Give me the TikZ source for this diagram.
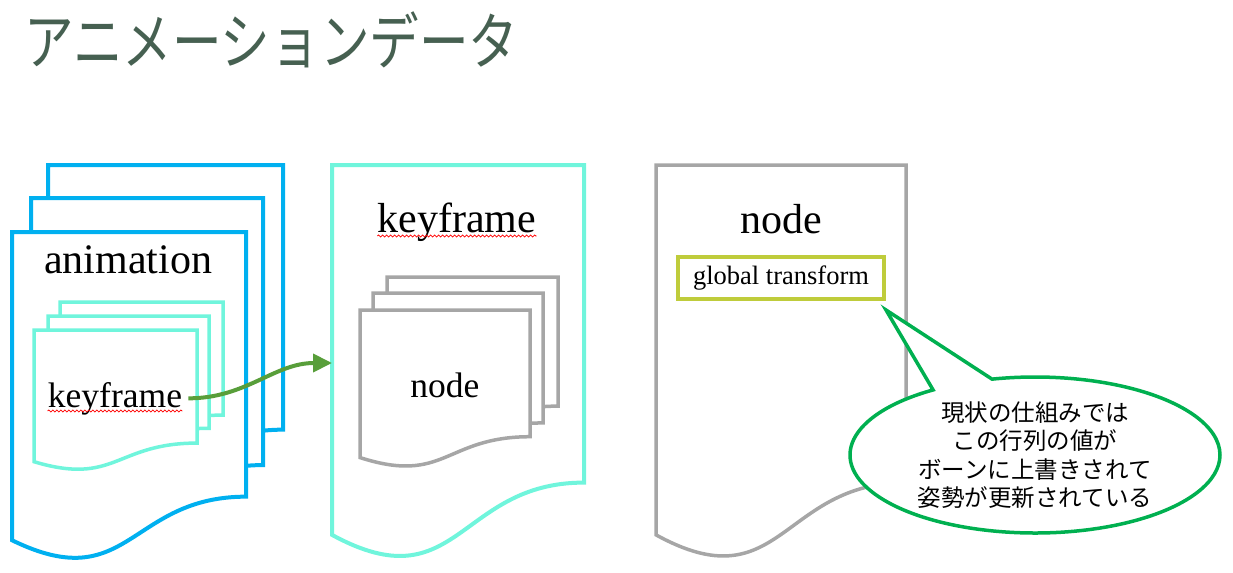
\documentclass[tikz,border=0pt]{standalone}
\usepackage{fontspec}
\setmainfont{Liberation Serif}
\newfontfamily\jpfont{Noto Sans CJK JP}
\newfontfamily\titlefont[FakeStretch=0.8]{Noto Sans CJK JP}
\usetikzlibrary{positioning, arrows.meta, shapes.callouts, decorations.pathmorphing}

\definecolor{titlegreen}{RGB}{70,96,81}
\definecolor{animblue}{HTML}{00B0F0}
\definecolor{kfaqua}{HTML}{70F5DC}
\definecolor{nodegray}{HTML}{A6A6A6}
\definecolor{boxlime}{HTML}{BFCC3B}
\definecolor{remarkgreen}{HTML}{00B050}
\definecolor{arrowgreen}{HTML}{589E3A}

\tikzset{
    docpage/.pic={
        \path[pic actions] (0,0) -- (1,0) -- (1,0.802)
            .. controls (0.5,0.802) and (0.5,1.1075) .. (0,0.934) -- cycle;
    }
}

\begin{document}
\begin{tikzpicture}[x=0.5pt, y=-0.5pt,
    page/.style={fill=white, line width=2pt},
    bigtext/.style={inner sep=0pt, anchor=base, font=\fontsize{21pt}{25pt}\selectfont},
    smalltext/.style={inner sep=0pt, anchor=base, font=\fontsize{17.75pt}{21pt}\selectfont},
    spellmark/.style={draw=red, line width=0.4pt, decorate,
        decoration={snake, amplitude=0.5pt, segment length=2pt}},
    flowarrow/.style={draw=arrowgreen, line width=2pt, -{Triangle[length=9.5pt, width=9pt]}},
    remark/.style={ellipse callout, draw=remarkgreen, line width=1.75pt, fill=white,
        inner sep=0pt, minimum width=185pt, minimum height=78pt, align=center,
        callout pointer arc=20, font=\jpfont\fontsize{11.75pt}{14.25pt}\selectfont}]
    \useasboundingbox (0,0) rectangle (1233,573);

    \node[inner sep=0pt, anchor=west, text=titlegreen,
        font=\titlefont\fontsize{31pt}{36pt}\selectfont] (title) at (24,40) {アニメーションデータ}; % title

    % animation
    \pic[draw=animblue, page, xscale=235, yscale=330] at (48,165) {docpage};
    \pic[draw=animblue, page, xscale=232, yscale=333] at (31,198) {docpage};
    \pic[draw=animblue, page, xscale=234, yscale=330] at (12,232) {docpage};
    \node[bigtext] (animlabel) at (128,273) {animation}; % animation

    \pic[draw=kfaqua, page, line width=1.75pt, xscale=163, yscale=141] at (60,302) {docpage};
    \pic[draw=kfaqua, page, line width=1.75pt, xscale=161, yscale=140] at (48,316) {docpage};
    \pic[draw=kfaqua, page, line width=1.75pt, xscale=163, yscale=141] at (34,330) {docpage};
    \node[smalltext] (kfinner) at (115,407) {keyframe}; % keyframe
    \draw[spellmark] ([yshift=-2pt]kfinner.base west) -- ([yshift=-2pt]kfinner.base east);

    % keyframe
    \pic[draw=kfaqua, page, xscale=252, yscale=396] at (332,165) {docpage};
    \node[bigtext] (kflabel) at (457,232) {keyframe}; % keyframe
    \draw[spellmark] ([yshift=-2pt]kflabel.base west) -- ([yshift=-2pt]kflabel.base east);
    \coordinate (kfentry) at (332,363);

    \pic[draw=nodegray, page, line width=1.75pt, xscale=171, yscale=161] at (387,277) {docpage};
    \pic[draw=nodegray, page, line width=1.75pt, xscale=170, yscale=162] at (373,293) {docpage};
    \pic[draw=nodegray, page, line width=1.75pt, xscale=170, yscale=158] at (360,310) {docpage};
    \node[smalltext] (nodeinner) at (445,397) {node}; % node

    % node
    \pic[draw=nodegray, page, line width=1.75pt, xscale=250, yscale=396] at (656,165) {docpage};
    \node[bigtext] (nodelabel) at (781,233) {node}; % node
    \node[draw=boxlime, line width=1.75pt, minimum width=103pt, minimum height=21pt,
        inner sep=0pt, font=\fontsize{13.25pt}{16pt}\selectfont] (gtbox) at (781,278) {global transform}; % global transform

    \coordinate (tip) at (886,310);
    \node[remark, callout absolute pointer=(tip)] (remark) at (1035,455)
        {現状の仕組みでは\\この行列の値が\\ボーンに上書きされて\\姿勢が更新されている};

    \draw[flowarrow] ([xshift=3pt]kfinner.east) to[out=0, in=180] (kfentry);
\end{tikzpicture}
\end{document}
